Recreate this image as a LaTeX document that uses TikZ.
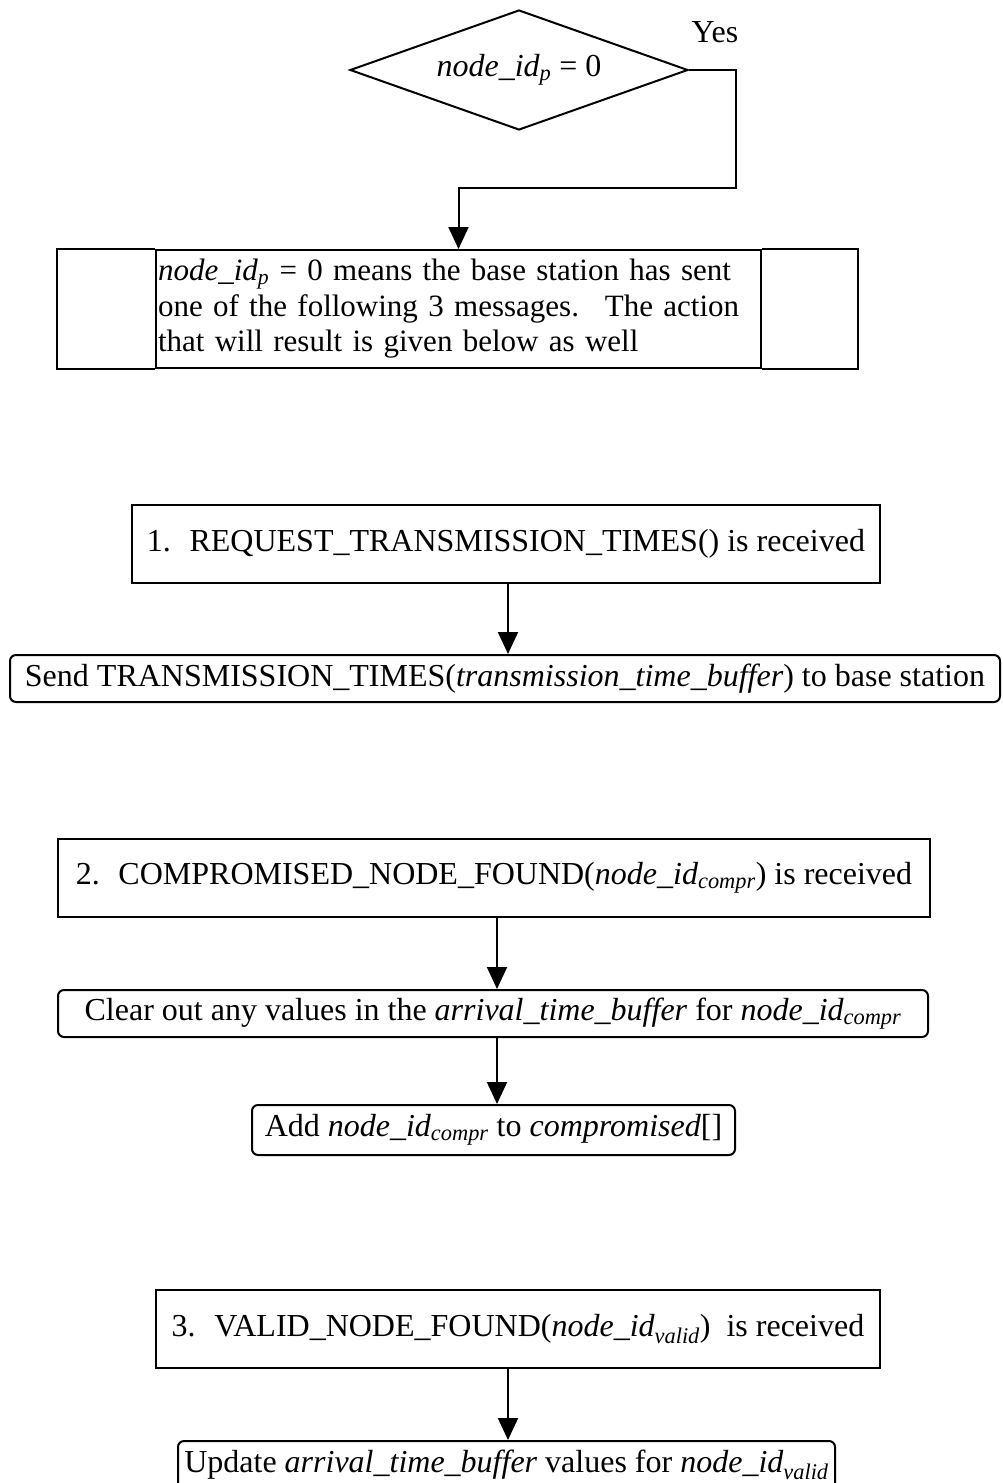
\documentclass[tikz,border=0pt]{standalone}
\usepackage{fontspec}
\setmainfont{Liberation Serif}
\usetikzlibrary{shapes.geometric,arrows.meta}

\tikzset{
	txt/.style={font=\fontsize{32}{35.5}\selectfont},
	box/.style={txt, draw, line width=2pt, inner sep=0pt},
	action/.style={box, rounded corners=6pt},
	decision/.style={box, diamond, aspect=2.8, minimum width=338pt, minimum height=120pt},
	flow/.style={line width=2pt, -{Triangle[length=22pt,width=20pt]}},
}

\begin{document}
\begin{tikzpicture}[x=1pt,y=-1pt]
		\useasboundingbox (0,0) rectangle (1002,1483) ;
		\clip (0,0) rectangle (1002,1483) ;

		\draw (519,70) node[decision] (test) {\textit{node\_id\textsubscript{p}} = 0} ;
		\draw (715,32) node[txt] (yes) {Yes} ;
		\coordinate (bend) at (736,188) ;
		\draw (458.5,309) node[box, font=\fontsize{31}{35.5}\selectfont, minimum width=605pt, minimum height=118pt, text width=601pt, align=left] (note)
			{\textit{node\_id\textsubscript{p}} = 0 means the base station has sent\\one of the following 3 messages.~ The action\\that will result is given below as well} ;
		\draw[line width=2pt] (note.north west) -- ++(-98,0) |- (note.south west) ;
		\draw[line width=2pt] (note.north east) -- ++(96,0) |- (note.south east) ;

		\draw (506,544) node[box, minimum width=748pt, minimum height=78pt] (req) {1.~ REQUEST\_TRANSMISSION\_TIMES() is received} ;
		\draw (505,678.5) node[action, minimum width=990pt, minimum height=47pt] (send) {Send TRANSMISSION\_TIMES(\textit{transmission\_time\_buffer}) to base station} ;

		\draw (494,878) node[box, minimum width=872pt, minimum height=78pt] (compr) {2.~ COMPROMISED\_NODE\_FOUND(\textit{node\_id\textsubscript{compr}}) is received} ;
		\draw (493,1013.5) node[action, minimum width=870pt, minimum height=47pt] (clear) {Clear out any values in the \textit{arrival\_time\_buffer} for \textit{node\_id\textsubscript{compr}}} ;
		\draw (493.5,1130) node[action, minimum width=483pt, minimum height=50pt] (add) {Add \textit{node\_id\textsubscript{compr}} to \textit{compromised}[]} ;

		\draw (518,1329) node[box, minimum width=724pt, minimum height=78pt] (valid) {3.~ VALID\_NODE\_FOUND(\textit{node\_id\textsubscript{valid}})~ is received} ;
		\draw (506.5,1440) node[action, anchor=north, minimum width=657pt, minimum height=48pt] (upd) {Update \textit{arrival\_time\_buffer} values for \textit{node\_id\textsubscript{valid}}} ;

		\draw[flow] (test.east) -| (bend) -| (note.north) ;
		\draw[flow] (send.north -| 508,0) ++(0,-72) -- (send.north -| 508,0) ;
		\draw[flow] (compr.south -| 497,0) -- (clear.north -| 497,0) ;
		\draw[flow] (clear.south -| 497,0) -- (add.north -| 497,0) ;
		\draw[flow] (upd.north -| 508,0) ++(0,-72) -- (upd.north -| 508,0) ;
	\end{tikzpicture}
\end{document}
